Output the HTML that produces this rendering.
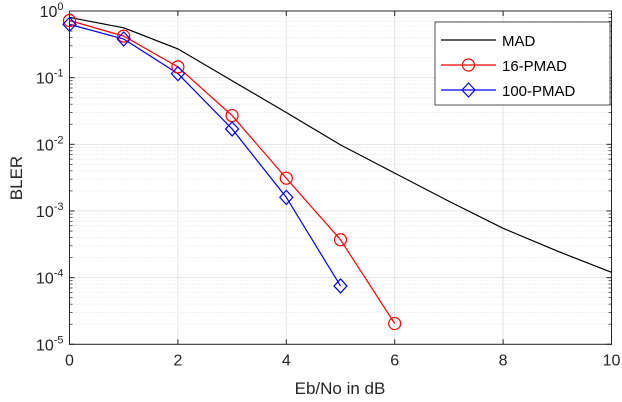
<!DOCTYPE html>
<html><head><meta charset="utf-8"><style>
body{margin:0;background:#fff;}
svg{display:block;font-family:"Liberation Sans",sans-serif;}
</style></head><body>
<svg id="chart" width="622" height="402">
<g id="grid"></g>
<g id="axes"></g>
<g id="series"></g>
<text x="340" y="394" font-size="17" fill="#262626" text-anchor="middle">Eb/No in dB</text>
<text x="0" y="0" font-size="17" fill="#262626" text-anchor="middle" transform="translate(22,178) rotate(-90)">BLER</text>
<g>
<rect x="435" y="22" width="175" height="83" fill="#fff" stroke="#262626" stroke-width="0.8"/>
<g><line x1="441" y1="40" x2="496" y2="40" stroke="#000" stroke-width="1.2"/><text x="502" y="46" font-size="15" fill="#000">MAD</text></g>
<g><line x1="441" y1="65" x2="496" y2="65" stroke="red" stroke-width="1.2"/><circle cx="468.5" cy="65" r="6" fill="none" stroke="red" stroke-width="1.2"/><text x="502" y="71" font-size="15" fill="#000">16-PMAD</text></g>
<g><line x1="441" y1="90" x2="496" y2="90" stroke="blue" stroke-width="1.2"/><path d="M468.5 83 L475 90 L468.5 97 L462 90 Z" fill="none" stroke="blue" stroke-width="1.2"/><text x="502" y="96" font-size="15" fill="#000">100-PMAD</text></g>
</g>
</svg>
<script>
const madX=[0,1,2,3,4,5,6,7,8,9,10];
const madY=[0.8,0.56,0.27,0.09,0.03,0.0098,0.0037,0.0014,0.00055,0.00025,0.00012];
const p16X=[0,1,2,3,4,5,6];
const p16Y=[0.72,0.42,0.145,0.027,0.0031,0.00037,0.0000205];
const p100X=[0,1,2,3,4,5];
const p100Y=[0.63,0.38,0.115,0.017,0.0016,0.000075];
const xTicks=[0,2,4,6,8,10];
const yExps=[0,-1,-2,-3,-4,-5];
const L=69.5,R=611.5,T=11,B=344.3;
const sx=v=>L+(R-L)*v/10;
const sy=v=>T+(B-T)*(-Math.log10(v))/5;
const NS="http://www.w3.org/2000/svg";
function mk(tag,attrs,parent){const e=document.createElementNS(NS,tag);for(const k in attrs)e.setAttribute(k,attrs[k]);parent.appendChild(e);return e;}
const grid=document.getElementById('grid'),axes=document.getElementById('axes'),ser=document.getElementById('series');
mk('rect',{x:L,y:T,width:R-L,height:B-T,fill:'#fff'},grid);
for(let d=0;d<5;d++){for(let m=2;m<=9;m++){const y=sy(Math.pow(10,-d-1)*m);const l=mk('line',{x1:L,x2:R,y1:y,y2:y,stroke:'#d8d8d8','stroke-width':0.7,'stroke-dasharray':'1,2'},grid);}}
yExps.forEach(e=>{const y=sy(Math.pow(10,e));const l=mk('line',{x1:L,x2:R,y1:y,y2:y,stroke:'#e3e3e3','stroke-width':1},grid);
const t=mk('text',{x:L-6,y:y+6,'font-size':16,fill:'#262626','text-anchor':'end'},axes);
t.innerHTML='10<tspan dy="-7" font-size="11">'+e+'</tspan>';
mk('line',{x1:L,x2:L+5,y1:y,y2:y,stroke:'#262626'},axes);mk('line',{x1:R,x2:R-5,y1:y,y2:y,stroke:'#262626'},axes);});
for(let d=0;d<5;d++){for(let m=2;m<=9;m++){const y=sy(Math.pow(10,-d-1)*m);mk('line',{x1:L,x2:L+3,y1:y,y2:y,stroke:'#262626','stroke-width':0.7},axes);mk('line',{x1:R,x2:R-3,y1:y,y2:y,stroke:'#262626','stroke-width':0.7},axes);}}
xTicks.forEach(v=>{const x=sx(v);const l=mk('line',{x1:x,x2:x,y1:T,y2:B,stroke:'#e3e3e3'},grid);
mk('line',{x1:x,x2:x,y1:B,y2:B-5,stroke:'#262626'},axes);mk('line',{x1:x,x2:x,y1:T,y2:T+5,stroke:'#262626'},axes);
const t=mk('text',{x:x,y:B+21,'font-size':16,fill:'#262626','text-anchor':'middle'},axes);t.textContent=v;});
const fr=mk('rect',{x:L,y:T,width:R-L,height:B-T,fill:'none',stroke:'#262626','stroke-width':1},axes);

function line(xs,ys,col,name){const p=mk('polyline',{points:xs.map((x,i)=>sx(x)+','+sy(ys[i])).join(' '),fill:'none',stroke:col,'stroke-width':1.2},ser);}
line(madX,madY,'#000','mad-line');
line(p16X,p16Y,'red','16-pmad-line');
line(p100X,p100Y,'blue','100-pmad-line');
p16X.forEach((x,i)=>{const c=mk('circle',{cx:sx(x),cy:sy(p16Y[i]),r:6,fill:'none',stroke:'red','stroke-width':1.2},ser);});
p100X.forEach((x,i)=>{const X=sx(x),Y=sy(p100Y[i]);const c=mk('path',{d:`M${X} ${Y-7} L${X+6.5} ${Y} L${X} ${Y+7} L${X-6.5} ${Y} Z`,fill:'none',stroke:'blue','stroke-width':1.2},ser);});
</script>
</body></html>
